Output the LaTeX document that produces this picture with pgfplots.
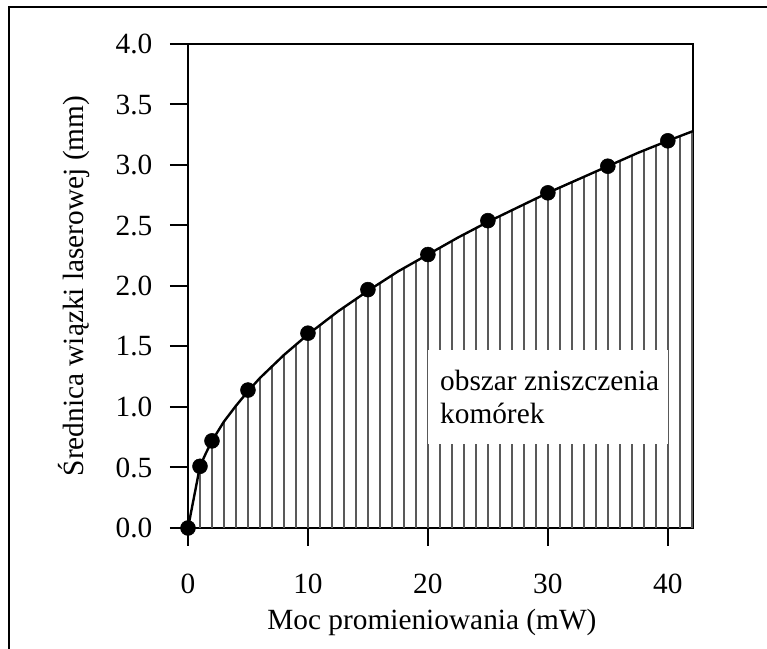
\documentclass[border=0pt]{standalone}
\usepackage{fontspec}
\setmainfont{Liberation Serif}
\usepackage{pgfplots}
\pgfplotsset{compat=1.18}

\begin{document}
\begin{tikzpicture}
\begin{axis}[
    at={(0,0)}, anchor=south west,
    scale only axis,
    width=378.75pt, height=363pt,
    xmin=0, xmax=42.1,
    ymin=0, ymax=4,
    xtick={0,10,20,30,40},
    ytick={0,0.5,...,4},
    xtick pos=left, ytick pos=left,
    tick align=outside,
    major tick length=13.5pt,
    tick style={black, line width=1.5pt},
    axis line style={line width=1.5pt},
    yticklabel style={/pgf/number format/fixed, /pgf/number format/fixed zerofill,
        /pgf/number format/precision=1, anchor=east, xshift=-13pt},
    xticklabel style={anchor=north, yshift=-21pt},
    /pgf/number format/assume math mode=true,
    tick label style={font=\fontsize{22}{25}\selectfont, inner sep=0pt},
    label style={font=\fontsize{22}{25}\selectfont},
    xlabel={Moc promieniowania (mW)},
    ylabel={Średnica wiązki laserowej (mm)},
    xlabel style={at={(axis description cs:0.483,-0.196)}, anchor=center},
    ylabel style={at={(axis description cs:-0.225,0.5)}, anchor=center},
]
% hatching under the curve
\addplot[ycomb, black!65, line width=1.1pt, no markers] coordinates {
 (1,0.51) (2,0.72) (3,0.88) (4,1.01) (5,1.13) (6,1.24) (7,1.34) (8,1.43)
 (9,1.52) (10,1.60) (11,1.68) (12,1.75) (13,1.82) (14,1.89) (15,1.96)
 (16,2.02) (17,2.09) (18,2.15) (19,2.21) (20,2.26) (21,2.32) (22,2.37)
 (23,2.43) (24,2.48) (25,2.53) (26,2.58) (27,2.63) (28,2.68) (29,2.72)
 (30,2.77) (31,2.82) (32,2.86) (33,2.91) (34,2.95) (35,2.99) (36,3.04)
 (37,3.08) (38,3.12) (39,3.16) (40,3.20) (41,3.24) (42,3.28)
};
% text box
\fill[white] (axis cs:20,0.694) rectangle (axis cs:40,1.471);
\node[anchor=base west, inner sep=0pt, font=\fontsize{22}{25}\selectfont]
    at (axis cs:21,1.14) {obszar zniszczenia};
\node[anchor=base west, inner sep=0pt, font=\fontsize{22}{25}\selectfont]
    at (axis cs:21,0.86) {komórek};
% fitted curve
\addplot[black, line width=1.8pt, no markers] coordinates {
 (0,0) (1,0.51) (1.5,0.62) (2,0.72) (3,0.88) (4,1.01) (5,1.13) (6,1.24)
 (8,1.43) (10,1.60) (12.5,1.79) (15,1.96) (17.5,2.12) (20,2.26) (22.5,2.40)
 (25,2.53) (27.5,2.65) (30,2.77) (32.5,2.88) (35,2.99) (37.5,3.10)
 (40,3.20) (42.1,3.28)
};
% measured points
\addplot[only marks, mark=*, mark size=5.6pt, black] coordinates {
 (0,0) (1,0.51) (2,0.72) (5,1.14) (10,1.61) (15,1.97) (20,2.26)
 (25,2.54) (30,2.77) (35,2.99) (40,3.20)
};
\end{axis}
\path[use as bounding box] (-141pt,-90.75pt) rectangle (434.25pt,396pt);
\draw[line width=1.6pt] (-134.25pt,-90.75pt) -- (-134.25pt,390.75pt) -- (434.25pt,390.75pt);
\end{tikzpicture}
\end{document}
